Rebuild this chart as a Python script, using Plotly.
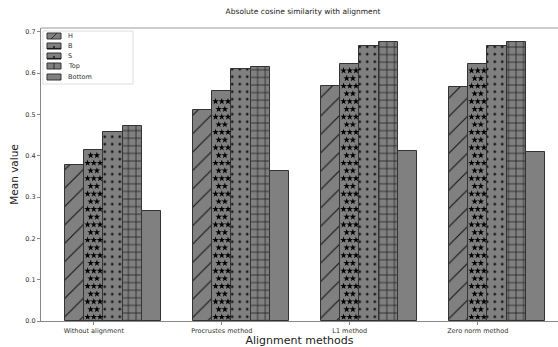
import numpy as np
import plotly.graph_objects as go

# Alignment methods and the mean absolute cosine similarity per layer group
methods = ["Without alignment", "Procrustes method", "L1 method", "Zero norm method"]
series_names = ["H", "B", "S", "Top", "Bottom"]
h_vals = [0.377, 0.511, 0.569, 0.567]
b_vals = [0.413, 0.556, 0.622, 0.622]
s_vals = [0.457, 0.610, 0.666, 0.667]
top_vals = [0.472, 0.614, 0.676, 0.676]
bottom_vals = [0.266, 0.362, 0.412, 0.409]
y_ticks = [0.0, 0.1, 0.2, 0.3, 0.4, 0.5, 0.6, 0.7]

all_vals = [h_vals, b_vals, s_vals, top_vals, bottom_vals]
patterns = ["/", "", ".", "+", ""]
pattern_sizes = [13, 8, 7.5, 7.6, 8]
pattern_solidity = [0.09, 0.1, 0.1, 0.17, 0.1]

W, H = 558, 347
ML, MR, MT, MB = 41, 0, 28, 26
bar_w = 0.15
x_range = [-0.4125, 3.627]
y_range = [0, 0.7094]
PW, PH = W - ML - MR, H - MT - MB
px_per_x = PW / (x_range[1] - x_range[0])
px_per_y = PH / (y_range[1] - y_range[0])


def px(x):
    return (x - ML) / PW


def py(y):
    return 1 - (y - MT) / PH


FONT = "DejaVu Sans"
fig = go.Figure()
base = np.arange(len(methods))

for k, (name, vals) in enumerate(zip(series_names, all_vals)):
    marker = dict(color="#808080", line=dict(color="#333333", width=1))
    if patterns[k]:
        marker["pattern"] = dict(shape=patterns[k], fgcolor="#111111", fgopacity=0.95,
                                 size=pattern_sizes[k], solidity=pattern_solidity[k],
                                 fillmode="overlay")
    fig.add_trace(go.Bar(
        x=base + (k - 1) * bar_w, y=vals, width=bar_w, name=name,
        marker=marker, showlegend=False,
    ))

# Star hatching on the B bars, laid out on a staggered grid inside each bar
star_x, star_y = [], []
dx = 6.2 / px_per_x
dy = 7.7 / px_per_y
for i, v in enumerate(b_vals):
    cx = base[i]
    row = 0
    yy = 4.0 / px_per_y
    while yy < v - 3.0 / px_per_y:
        offs = [-dx, 0.0, dx] if row % 2 == 0 else [-dx / 2, dx / 2]
        for o in offs:
            star_x.append(cx + o)
            star_y.append(yy)
        yy += dy
        row += 1
fig.add_trace(go.Scatter(
    x=star_x, y=star_y, mode="markers", showlegend=False, hoverinfo="skip",
    marker=dict(symbol="star", size=5, color="black", line=dict(width=0)),
))

# Compact legend box in the upper left corner
fig.add_shape(type="rect", xref="paper", yref="paper",
              x0=px(43), x1=px(133), y0=py(84), y1=py(31),
              line=dict(color="#dddddd", width=1), fillcolor="rgba(255,255,255,0.85)")
row_y = [36, 46, 56, 66, 77]
for k, name in enumerate(series_names):
    yc = row_y[k]
    fig.add_shape(type="rect", xref="paper", yref="paper",
                  x0=px(47), x1=px(61), y0=py(yc + 3), y1=py(yc - 3),
                  line=dict(color="#333333", width=1), fillcolor="#808080")
    if name == "H":
        fig.add_shape(type="line", xref="paper", yref="paper",
                      x0=px(51), x1=px(57), y0=py(yc + 3), y1=py(yc - 3),
                      line=dict(color="#1a1a1a", width=0.8))
    elif name in ("B", "S"):
        fig.add_shape(type="line", xref="paper", yref="paper",
                      x0=px(47), x1=px(61), y0=py(yc + 2.5), y1=py(yc + 2.5),
                      line=dict(color="#1a1a1a", width=1.2))
        fig.add_shape(type="circle", xref="paper", yref="paper",
                      x0=px(53), x1=px(55), y0=py(yc + 2), y1=py(yc),
                      line=dict(width=0), fillcolor="#1a1a1a")
    elif name == "Top":
        fig.add_shape(type="line", xref="paper", yref="paper",
                      x0=px(54), x1=px(54), y0=py(yc + 3), y1=py(yc - 3),
                      line=dict(color="#1a1a1a", width=0.8))
    fig.add_annotation(x=px(66), y=py(yc), xref="paper", yref="paper",
                       text=name, showarrow=False, xanchor="left", yanchor="middle",
                       font=dict(size=6.5, family=FONT, color="#333333"))

fig.update_layout(
    width=W, height=H,
    margin=dict(l=ML, r=MR, t=MT, b=MB),
    paper_bgcolor="white", plot_bgcolor="white",
    barmode="overlay", bargap=0, showlegend=False,
    font=dict(family=FONT, color="#333333"),
    title=dict(text="Absolute cosine similarity with alignment",
               x=303 / W, xanchor="center", y=1 - 11 / H, yanchor="middle",
               font=dict(size=7.5, family=FONT, color="#222222")),
    xaxis=dict(range=x_range, tickvals=list(base), ticktext=methods,
               showgrid=False, zeroline=False,
               showline=True, linecolor="#888888", linewidth=1, mirror=False,
               ticks="outside", ticklen=3, tickcolor="#888888",
               tickfont=dict(size=6.5, family=FONT, color="#333333"),
               title=dict(text="Alignment methods", standoff=4,
                          font=dict(size=11, family=FONT, color="#222222"))),
    yaxis=dict(range=y_range, tickvals=y_ticks, ticktext=[f"{t:.1f}" for t in y_ticks],
               showgrid=False, zeroline=False,
               showline=True, linecolor="#888888", linewidth=1,
               ticks="outside", ticklen=3, tickcolor="#888888",
               tickfont=dict(size=6.5, family=FONT, color="#333333"),
               title=dict(text="Mean value", standoff=4,
                          font=dict(size=10.5, family=FONT, color="#222222"))),
)

# Light frame line along the top of the axes
fig.add_shape(type="line", xref="paper", yref="paper", x0=0, x1=1, y0=1, y1=1,
              line=dict(color="#cccccc", width=2))

fig.write_html("out.html")
